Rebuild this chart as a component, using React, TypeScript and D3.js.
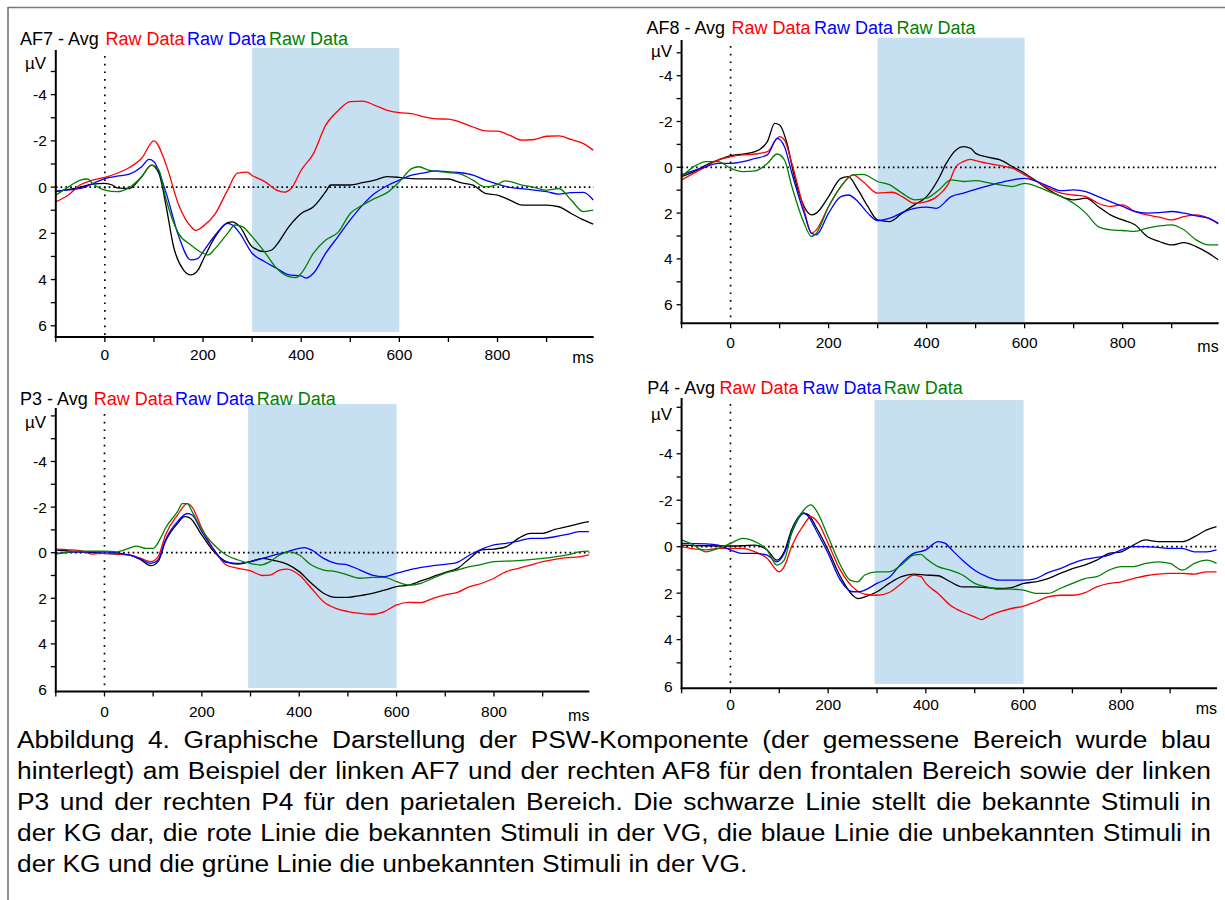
import React, { useLayoutEffect, useRef } from 'react';
import * as d3 from 'd3';

type Pt = [number, number];

// ---------- labels ----------
const channelTitles = ['AF7 - Avg', 'AF8 - Avg', 'P3 - Avg', 'P4 - Avg'];
const legendLabels = ['Raw Data', 'Raw Data', 'Raw Data'];
const legendColors = ['#ff0000', '#0000ff', '#008000'];
const seriesColors = ['#000000', '#ff0000', '#0000ff', '#008000']; // black, red, blue, green
const xTickValues = [-100, 0, 100, 200, 300, 400, 500, 600, 700, 800, 900];
const xTickLabels = [0, 200, 400, 600, 800];
const yMinorTicks = [-6, -5, -4, -3, -2, -1, 0, 1, 2, 3, 4, 5, 6];
const yTickLabels = [-4, -2, 0, 2, 4, 6];
const shadeWindows: [number, number][] = [[300, 600], [300, 600], [295, 600], [295, 600]];
const captionLines = [
  'Abbildung 4. Graphische Darstellung der PSW-Komponente (der gemessene Bereich wurde blau',
  'hinterlegt) am Beispiel der linken AF7 und der rechten AF8 für den frontalen Bereich sowie der linken',
  'P3 und der rechten P4 für den parietalen Bereich. Die schwarze Linie stellt die bekannte Stimuli in',
  'der KG dar, die rote Linie die bekannten Stimuli in der VG, die blaue Linie die unbekannten Stimuli in',
  'der KG und die grüne Linie die unbekannten Stimuli in der VG.',
];

// ---------- data (ms, µV) ----------
const af7Black: Pt[] = [[-100,0.2],[-50,0],[-25,-0.13],[0,-0.16],[15,-0.09],[25,0.03],[50,0.06],[75,-0.45],[95,-0.95],[110,-0.6],[125,0.85],[140,2.58],[160,3.58],[175,3.8],[190,3.58],[200,3.15],[225,2.14],[250,1.54],[260,1.5],[275,1.71],[300,2.58],[325,2.79],[340,2.72],[350,2.5],[375,1.71],[400,1.14],[425,0.85],[450,0.2],[460,-0.09],[500,-0.09],[525,-0.19],[550,-0.3],[575,-0.45],[600,-0.42],[625,-0.37],[700,-0.35],[725,-0.19],[750,-0.09],[775,0.27],[800,0.35],[825,0.56],[850,0.78],[900,0.78],[925,0.85],[950,1.14],[975,1.42],[995,1.6]];
const af7Red: Pt[] = [[-100,0.63],[-75,0.35],[-50,-0.1],[-25,-0.3],[0,-0.42],[25,-0.6],[50,-0.85],[75,-1.25],[100,-2.0],[125,-0.95],[150,0.75],[175,1.7],[185,1.87],[200,1.7],[225,1.15],[250,0.13],[270,-0.6],[290,-0.65],[300,-0.5],[325,-0.25],[350,0.13],[365,0.22],[380,0.05],[400,-0.73],[425,-1.45],[450,-2.68],[475,-3.3],[500,-3.7],[525,-3.72],[550,-3.54],[575,-3.32],[600,-3.22],[625,-3.18],[650,-3.04],[675,-2.95],[700,-2.94],[725,-2.8],[750,-2.6],[775,-2.43],[800,-2.42],[825,-2.24],[850,-2.03],[875,-2.06],[900,-2.2],[925,-2.22],[950,-2.06],[975,-1.88],[995,-1.6]];
const af7Blue: Pt[] = [[-100,0.17],[-50,0.06],[-25,-0.15],[0,-0.37],[25,-0.47],[50,-0.56],[75,-0.88],[90,-1.2],[100,-1.1],[125,0.27],[150,2.1],[175,3.15],[190,3.08],[200,2.8],[225,2.07],[250,1.57],[260,1.64],[275,2.0],[300,2.86],[325,3.22],[350,3.51],[375,3.8],[400,3.84],[410,3.94],[425,3.73],[450,2.86],[475,2.14],[500,1.42],[525,0.78],[550,0.27],[575,-0.06],[600,-0.3],[625,-0.52],[650,-0.62],[675,-0.7],[700,-0.66],[725,-0.62],[750,-0.52],[775,-0.3],[800,-0.13],[825,0.01],[850,0.07],[875,0.13],[900,0.2],[925,0.3],[950,0.24],[975,0.23],[995,0.56]];
const af7Green: Pt[] = [[-100,0.35],[-75,0],[-50,-0.3],[-35,-0.35],[-25,-0.16],[0,0.13],[25,0.2],[50,0.01],[75,-0.45],[95,-0.95],[110,-0.73],[125,0.56],[150,2.0],[175,2.5],[200,2.86],[210,2.94],[225,2.65],[250,2.0],[265,1.64],[280,1.71],[300,2.14],[325,2.79],[350,3.51],[375,3.87],[390,3.91],[400,3.73],[425,2.86],[450,2.29],[475,1.96],[500,1.14],[525,0.78],[550,0.49],[575,0.24],[600,-0.23],[625,-0.8],[640,-0.88],[660,-0.73],[700,-0.63],[725,-0.56],[750,-0.3],[775,-0.01],[800,-0.12],[815,-0.27],[850,-0.09],[875,0.01],[900,0.13],[925,0.06],[950,0.56],[975,1.06],[995,1.0]];

const af8Black: Pt[] = [[-100,0.41],[-75,0.19],[-50,-0.1],[-25,-0.32],[0,-0.51],[25,-0.58],[50,-0.68],[75,-1.12],[90,-1.92],[100,-1.85],[115,-1.05],[130,0.41],[150,1.71],[165,2.08],[175,2.0],[200,1.28],[225,0.48],[240,0.41],[260,0.99],[280,1.71],[300,2.3],[325,2.37],[350,2.0],[375,1.64],[400,1.28],[425,0.48],[440,-0.17],[460,-0.76],[475,-0.9],[490,-0.83],[500,-0.61],[525,-0.44],[550,-0.32],[575,-0.03],[600,0.26],[625,0.62],[650,0.99],[675,1.28],[700,1.42],[725,1.35],[750,1.71],[775,2.08],[800,2.3],[825,2.51],[850,3.02],[875,3.24],[900,3.39],[925,3.29],[950,3.46],[975,3.75],[995,4.04]];
const af8Red: Pt[] = [[-100,0.55],[-50,-0.03],[-25,-0.32],[0,-0.46],[25,-0.54],[50,-0.58],[75,-0.68],[100,-1.34],[110,-1.19],[125,-0.17],[150,1.86],[165,2.88],[175,2.73],[200,1.71],[225,0.84],[250,0.33],[270,0.62],[300,1.13],[330,1.09],[350,1.28],[375,1.57],[400,1.5],[425,1.21],[445,0.7],[460,-0.03],[475,-0.25],[490,-0.35],[500,-0.29],[525,-0.17],[550,-0.07],[575,0.04],[600,0.33],[625,0.62],[650,0.92],[675,1.13],[700,1.21],[725,1.28],[750,1.57],[775,1.71],[800,1.64],[825,1.93],[850,2.08],[875,2.18],[900,2.3],[925,2.15],[950,2.08],[975,2.22],[995,2.44]];
const af8Blue: Pt[] = [[-100,0.33],[-50,-0.03],[-25,-0.17],[0,-0.17],[25,-0.25],[50,-0.39],[75,-0.54],[95,-1.26],[110,-0.9],[125,0.26],[150,2.0],[165,2.88],[175,2.95],[200,2.0],[225,1.28],[240,1.21],[260,1.5],[280,2.0],[300,2.33],[325,2.22],[350,1.98],[375,1.79],[400,1.74],[420,1.79],[450,1.28],[475,1.13],[500,0.96],[525,0.81],[550,0.67],[575,0.55],[600,0.48],[625,0.62],[650,0.84],[675,1.02],[700,0.99],[725,1.06],[750,1.28],[775,1.5],[800,1.71],[825,1.93],[850,2.0],[875,1.98],[900,1.93],[925,2.0],[950,2.12],[975,2.22],[995,2.47]];
const af8Green: Pt[] = [[-100,0.41],[-75,-0.03],[-50,-0.25],[-25,-0.25],[0,0.04],[25,0.19],[50,0.16],[75,-0.17],[95,-0.58],[110,-0.32],[125,0.84],[150,2.44],[165,3.02],[175,2.88],[200,1.71],[225,0.84],[250,0.33],[270,0.31],[300,0.62],[325,0.77],[350,1.13],[375,1.42],[400,1.35],[425,0.99],[450,0.55],[475,0.62],[500,0.58],[525,0.67],[550,0.77],[575,0.84],[600,0.7],[625,0.84],[650,1.06],[675,1.28],[700,1.57],[725,2.0],[750,2.59],[775,2.73],[800,2.76],[825,2.8],[850,2.66],[875,2.56],[900,2.51],[925,2.73],[950,3.17],[975,3.39],[995,3.39]];

const p3Black: Pt[] = [[-100,-0.12],[-50,-0.04],[0,0.03],[50,0.1],[75,0.32],[95,0.57],[110,0.39],[125,-0.48],[150,-1.28],[165,-1.58],[175,-1.53],[200,-0.77],[225,-0.04],[250,0.39],[275,0.5],[300,0.39],[325,0.25],[350,0.35],[375,0.5],[400,0.83],[425,1.34],[450,1.78],[475,1.96],[500,1.96],[525,1.88],[550,1.78],[575,1.64],[600,1.49],[625,1.42],[650,1.24],[675,1.05],[700,0.86],[725,0.69],[750,0.25],[775,-0.12],[800,-0.16],[825,-0.26],[850,-0.63],[875,-0.85],[900,-0.85],[925,-1.02],[950,-1.14],[975,-1.28],[995,-1.36]];
const p3Red: Pt[] = [[-100,-0.16],[-50,-0.09],[-25,0.06],[0,0.03],[50,0.1],[75,0.25],[95,0.39],[110,0.18],[125,-0.77],[150,-1.65],[170,-2.15],[180,-2.0],[200,-1.07],[225,-0.12],[250,0.54],[275,0.69],[300,0.8],[325,1.0],[340,0.98],[360,0.76],[375,0.72],[400,0.98],[425,1.56],[450,2.15],[475,2.44],[500,2.58],[525,2.66],[550,2.7],[575,2.58],[600,2.29],[625,2.18],[650,2.19],[675,2.0],[700,1.85],[725,1.74],[750,1.49],[775,1.34],[800,1.12],[825,0.83],[850,0.69],[875,0.54],[900,0.39],[925,0.29],[950,0.22],[975,0.18],[995,0.1]];
const p3Blue: Pt[] = [[-100,0.03],[-50,-0.04],[0,-0.04],[50,0.1],[75,0.28],[95,0.47],[110,0.32],[125,-0.55],[150,-1.36],[170,-1.72],[180,-1.65],[200,-0.92],[225,-0.12],[250,0.42],[275,0.47],[300,0.39],[325,0.25],[350,0.1],[375,-0.04],[400,-0.19],[410,-0.22],[425,-0.12],[450,0.25],[475,0.47],[500,0.54],[525,0.76],[550,0.98],[575,1.05],[600,0.9],[625,0.76],[650,0.64],[675,0.57],[700,0.51],[725,0.42],[750,0.1],[775,-0.16],[800,-0.34],[825,-0.41],[850,-0.51],[875,-0.63],[900,-0.63],[925,-0.7],[950,-0.8],[975,-0.92],[995,-0.92]];
const p3Green: Pt[] = [[-100,0.06],[-50,-0.07],[0,-0.07],[25,-0.04],[50,-0.19],[65,-0.29],[85,-0.19],[100,-0.19],[115,-0.63],[125,-1.07],[150,-1.8],[160,-2.15],[170,-2.15],[180,-1.8],[200,-1.0],[225,-0.34],[250,0.1],[275,0.32],[300,0.47],[320,0.54],[340,0.39],[360,0.1],[380,-0.04],[400,0.1],[425,0.54],[450,0.76],[475,0.83],[500,0.98],[525,1.12],[550,1.08],[575,1.08],[600,1.27],[625,1.42],[650,1.34],[675,1.12],[700,0.9],[725,0.76],[750,0.61],[775,0.51],[800,0.39],[850,0.35],[900,0.25],[925,0.18],[950,0.1],[975,-0.04],[995,-0.07]];

const p4Black: Pt[] = [[-100,-0.07],[-50,-0.04],[0,-0.03],[25,-0.04],[50,-0.07],[75,0.14],[95,0.58],[110,0.22],[125,-0.72],[150,-1.44],[160,-1.37],[175,-0.86],[200,0.14],[225,1.29],[250,2.09],[260,2.23],[275,2.16],[300,1.94],[325,1.58],[350,1.29],[375,1.18],[400,1.22],[425,1.25],[450,1.51],[475,1.73],[500,1.73],[525,1.76],[550,1.8],[575,1.76],[600,1.58],[625,1.51],[650,1.37],[675,1.15],[700,0.94],[725,0.79],[750,0.58],[775,0.29],[800,0.22],[825,-0.07],[850,-0.29],[875,-0.22],[900,-0.22],[925,-0.22],[950,-0.43],[975,-0.72],[995,-0.86]];
const p4Red: Pt[] = [[-100,0],[-50,0.14],[-25,0.07],[0,0.07],[25,0.07],[50,0.22],[75,0.5],[100,1.08],[110,0.86],[125,0],[150,-0.94],[165,-1.29],[180,-1.01],[200,-0.14],[225,1.01],[250,1.73],[275,2.04],[300,2.09],[325,1.97],[350,1.58],[375,1.22],[390,1.29],[400,1.58],[425,2.01],[450,2.52],[475,2.81],[500,3.02],[515,3.14],[525,3.02],[550,2.81],[575,2.66],[600,2.56],[625,2.37],[650,2.16],[675,2.09],[700,2.09],[725,1.99],[750,1.73],[775,1.58],[800,1.51],[825,1.37],[850,1.25],[875,1.18],[900,1.15],[925,1.15],[950,1.18],[975,1.08],[995,1.08]];
const p4Blue: Pt[] = [[-100,-0.14],[-50,-0.12],[-25,-0.07],[0,0.14],[25,0.29],[50,0.29],[75,0.36],[95,0.65],[110,0.29],[125,-0.58],[150,-1.44],[160,-1.29],[175,-0.72],[200,0.29],[225,1.44],[250,1.94],[265,1.94],[275,1.87],[300,1.58],[325,1.32],[350,0.72],[375,0.29],[400,0.14],[425,-0.22],[440,-0.14],[450,0.07],[475,0.58],[500,1.01],[525,1.29],[550,1.44],[575,1.44],[600,1.44],[625,1.37],[650,1.12],[675,0.94],[700,0.72],[725,0.55],[750,0.46],[775,0.36],[800,0.14],[825,0],[850,0],[875,0.03],[900,0.07],[925,0.07],[950,0.22],[975,0.22],[995,0.14]];
const p4Green: Pt[] = [[-100,-0.29],[-75,-0.07],[-50,0.22],[-25,0.07],[0,-0.14],[25,-0.36],[50,-0.22],[75,0.14],[95,0.79],[110,0.58],[125,-0.58],[150,-1.58],[165,-1.8],[175,-1.58],[200,-0.43],[225,0.79],[245,1.44],[260,1.51],[275,1.22],[300,1.08],[325,1.08],[350,0.79],[375,0.36],[390,0.33],[400,0.5],[425,0.86],[450,1.01],[475,1.22],[500,1.58],[525,1.73],[550,1.83],[575,1.83],[600,1.87],[625,2.01],[650,2.01],[675,1.8],[700,1.58],[725,1.37],[750,1.29],[775,1.01],[800,0.86],[825,0.86],[850,0.72],[875,0.65],[900,0.72],[925,1.01],[950,0.72],[975,0.58],[995,0.72]];

const panelSeries: Pt[][][] = [
  [af7Black, af7Red, af7Blue, af7Green],
  [af8Black, af8Red, af8Blue, af8Green],
  [p3Black, p3Red, p3Blue, p3Green],
  [p4Black, p4Red, p4Blue, p4Green],
];

// ---------- layout (pixels) ----------
interface Layout {
  xStart: number; xEnd: number; yNeg6: number; yPos6: number; axisY: number; axisTop: number;
  shadeTop: number; shadeBot: number; titleX: number; titleY: number; legendX: number[];
  muX: number; muY: number; xLabelY: number; msY: number;
}
const layouts: Layout[] = [
  { xStart: 55.8, xEnd: 593.7, yNeg6: 48.4, yPos6: 325.8, axisY: 337, axisTop: 50, shadeTop: 48, shadeBot: 332,
    titleX: 20, titleY: 45, legendX: [105.4, 187, 269], muX: 25, muY: 69, xLabelY: 360, msY: 363 },
  { xStart: 681.6, xEnd: 1218.7, yNeg6: 29.9, yPos6: 304.7, axisY: 323.3, axisTop: 40, shadeTop: 37.7, shadeBot: 322,
    titleX: 646.4, titleY: 34, legendX: [731.5, 814, 896.5], muX: 651, muY: 57, xLabelY: 348, msY: 352 },
  { xStart: 55.8, xEnd: 589.4, yNeg6: 415.9, yPos6: 689.5, axisY: 691.5, axisTop: 408, shadeTop: 404, shadeBot: 688,
    titleX: 20, titleY: 405, legendX: [93.7, 175, 256.8], muX: 25, muY: 428, xLabelY: 717, msY: 721 },
  { xStart: 681.6, xEnd: 1217, yNeg6: 407.3, yPos6: 686.1, axisY: 688.3, axisTop: 398, shadeTop: 400, shadeBot: 684,
    titleX: 647.2, titleY: 394, legendX: [719.5, 802.4, 883.7], muX: 651, muY: 420, xLabelY: 710, msY: 714 },
];

const FONT = '"Liberation Sans", Arial, Helvetica, sans-serif';
const captionLeft = 17;
const captionRight = 1211;
const captionBaseline = 748;
const captionLineHeight = 31;
const captionFontSize = 24.5;
const captionStretch = 1.077;

function Panel({ idx }: { idx: number }) {
  const L = layouts[idx];
  const x = d3.scaleLinear().domain([-100, 996]).range([L.xStart, L.xEnd]);
  const y = d3.scaleLinear().domain([-6, 6]).range([L.yNeg6, L.yPos6]);
  const line = d3.line<Pt>().x(d => x(d[0])).y(d => y(d[1])).curve(d3.curveMonotoneX);
  const [s0, s1] = shadeWindows[idx];
  const series = panelSeries[idx];
  return (
    <g>
      <rect x={x(s0)} y={L.shadeTop} width={x(s1) - x(s0)} height={L.shadeBot - L.shadeTop} fill="#c6dff1" />
      <line x1={L.xStart} x2={L.xEnd} y1={y(0)} y2={y(0)} stroke="#000" strokeWidth={1.7} strokeDasharray="1.7,3.1" />
      <line x1={x(0)} x2={x(0)} y1={L.axisTop + 6} y2={L.axisY} stroke="#000" strokeWidth={1.7} strokeDasharray="1.7,6" />
      {series.map((s, i) => (
        <path key={i} d={line(s) || ''} fill="none" stroke={seriesColors[i]} strokeWidth={1.3} strokeLinejoin="round" />
      ))}
      <line x1={L.xStart} x2={L.xStart} y1={L.axisTop} y2={L.axisY + 1} stroke="#000" strokeWidth={2} />
      <line x1={L.xStart - 1} x2={L.xEnd} y1={L.axisY} y2={L.axisY} stroke="#000" strokeWidth={2} />
      {yMinorTicks.filter(v => y(v) >= L.axisTop - 1 && y(v) <= L.axisY - 3).map(v => (
        <line key={'yt' + v} x1={L.xStart - 5} x2={L.xStart} y1={y(v)} y2={y(v)} stroke="#000" strokeWidth={1.3} />
      ))}
      {yTickLabels.map(v => (
        <text key={'yl' + v} x={L.xStart - 9} y={y(v)} dy="0.36em" textAnchor="end" fontSize={15.5} fontFamily={FONT} fill="#000">{v}</text>
      ))}
      {xTickValues.map(v => (
        <line key={'xt' + v} x1={x(v)} x2={x(v)} y1={L.axisY} y2={L.axisY + 5} stroke="#000" strokeWidth={1.3} />
      ))}
      {xTickLabels.map(v => (
        <text key={'xl' + v} x={x(v)} y={L.xLabelY} textAnchor="middle" fontSize={15.5} fontFamily={FONT} fill="#000">{v}</text>
      ))}
      <text x={L.xEnd} y={L.msY} textAnchor="end" fontSize={16} fontFamily={FONT} fill="#000">ms</text>
      <text x={L.muX} y={L.muY} fontSize={17} fontFamily={FONT} fill="#000">µV</text>
      <text x={L.titleX} y={L.titleY} fontSize={18} fontFamily={FONT} fill="#000">{channelTitles[idx]}</text>
      {legendLabels.map((lab, i) => (
        <text key={'lg' + i} x={L.legendX[i]} y={L.titleY} fontSize={18} fontFamily={FONT} fill={legendColors[i]}>{lab}</text>
      ))}
    </g>
  );
}

export default function App() {
  const capRef = useRef<SVGGElement>(null);
  useLayoutEffect(() => {
    const g = capRef.current;
    if (!g) return;
    const target = (captionRight - captionLeft) / captionStretch;
    g.querySelectorAll('text[data-justify="1"]').forEach((node) => {
      const el = node as SVGTextElement;
      el.setAttribute('word-spacing', '0');
      const w = el.getComputedTextLength();
      const gaps = (el.textContent || '').split(' ').length - 1;
      if (gaps > 0) el.setAttribute('word-spacing', String((target - w) / gaps));
    });
  }, []);
  return (
    <svg width={1225} height={900} style={{ position: 'absolute', left: 0, top: 0, display: 'block', background: '#fff' }}>
      <rect x={0} y={0} width={1225} height={900} fill="#fff" />
      <line x1={8} x2={1225} y1={7.5} y2={7.5} stroke="#7a7a7a" strokeWidth={1.5} />
      <line x1={8} x2={8} y1={7} y2={900} stroke="#6a6a6a" strokeWidth={1.5} />
      {layouts.map((_, i) => <Panel key={i} idx={i} />)}
      <g ref={capRef} transform={`translate(${captionLeft},0) scale(${captionStretch},1)`}>
        {captionLines.map((ln, i) => (
          <text key={i} data-justify={i < captionLines.length - 1 ? '1' : '0'} x={0}
            y={captionBaseline + i * captionLineHeight} fontSize={captionFontSize} fontFamily={FONT} fill="#000"
            style={{ whiteSpace: 'pre' }}>{ln}</text>
        ))}
      </g>
    </svg>
  );
}
